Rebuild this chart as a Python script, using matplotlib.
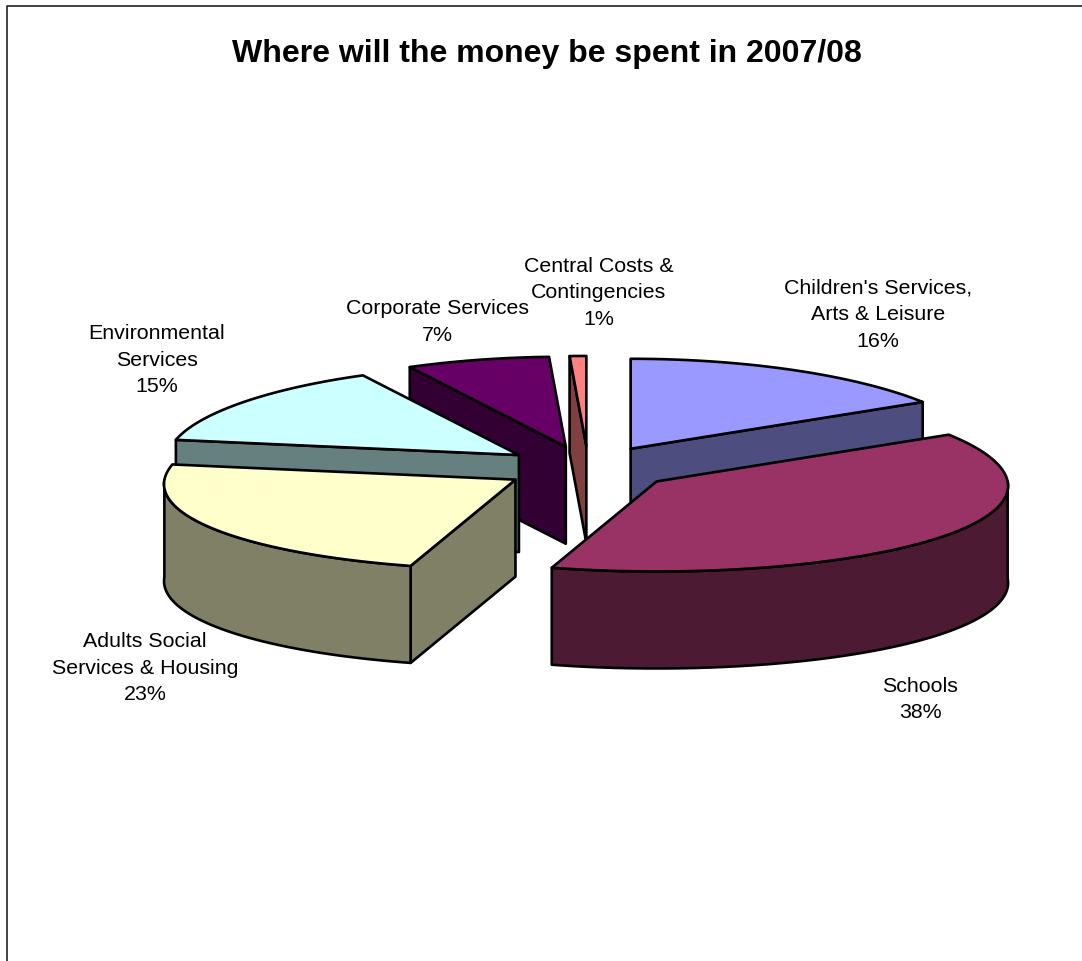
import numpy as np
import matplotlib
matplotlib.use("Agg")
import matplotlib.pyplot as plt
from matplotlib.patches import Polygon

plt.rcParams["font.family"] = ["Liberation Sans", "DejaVu Sans"]

# Budget shares in percent, clockwise from 12 o'clock
categories = ["Children's Services,\nArts & Leisure", "Schools", "Adults Social\nServices & Housing",
              "Environmental\nServices", "Corporate Services", "Central Costs &\nContingencies"]
shares = [16.3, 38.3, 23.1, 14.6, 6.9, 0.8]

top_colors = ["#9999FF", "#993366", "#FFFFCC", "#CCFFFF", "#660066", "#FF8080"]
side_colors = ["#4D4D80", "#4D1A33", "#808066", "#668080", "#330033", "#804040"]

# pie geometry, in figure pixels
CX, CY = 588.5, 468
RX, RY = 351, 90
DEPTH = 97
EXPLODE = 0.245
PERSPECTIVE = 0.05

# back to front, so nearer slices cover the ones behind
draw_order = [0, 5, 4, 3, 2, 1]
label_pos = [(878, 315), (920, 699.5), (145, 668), (157, 360), (437, 322), (599, 293)]


def project(center, theta):
    # the near side of the pie is drawn a little wider than the far side
    x = RX * np.sin(theta) * (1 - PERSPECTIVE * np.cos(theta))
    return np.column_stack([center[0] + x, center[1] - RY * np.cos(theta)])


def face_visible(center, p, m):
    # a cut face shows when the slice top lies above its edge on screen
    dx, dy = p[0] - center[0], p[1] - center[1]
    mx, my = m[0] - center[0], m[1] - center[1]
    return (dx * my - dy * mx) * np.sign(round(dx, 6)) < 0


def draw_slice(ax, start, end, top, side):
    mid = (start + end) / 2
    center = (CX + EXPLODE * RX * np.sin(mid), CY - EXPLODE * RY * np.cos(mid))
    theta = np.linspace(start, end, 150)
    arc = project(center, theta)
    mid_point = project(center, np.array([mid]))[0]
    style = dict(edgecolor="black", linewidth=1.9, joinstyle="round")

    for t in (start, end):
        p = project(center, np.array([t]))[0]
        if face_visible(center, p, mid_point):
            face = [center, p, (p[0], p[1] + DEPTH), (center[0], center[1] + DEPTH)]
            ax.add_patch(Polygon(face, facecolor=side, **style))

    # only the front half of the rim can be seen
    front = theta[(theta >= np.pi / 2) & (theta <= 3 * np.pi / 2)]
    if len(front) > 1:
        rim = project(center, front)
        lower = rim[::-1] + [0, DEPTH]
        ax.add_patch(Polygon(np.vstack([rim, lower]), facecolor=side, **style))

    ax.add_patch(Polygon(np.vstack([[center], arc]), facecolor=top, **style))


fig = plt.figure(figsize=(10.82, 9.61), dpi=100)
ax = fig.add_axes([0, 0, 1, 1])
ax.set_xlim(0, 1082)
ax.set_ylim(961, 0)
ax.axis("off")

edges = np.concatenate([[0], np.cumsum(shares)]) / sum(shares) * 2 * np.pi

for i in draw_order:
    draw_slice(ax, edges[i], edges[i + 1], top_colors[i], side_colors[i])

for name, value, (x, y) in zip(categories, shares, label_pos):
    ax.text(x, y, f"{name}\n{value:.0f}%", ha="center", va="center", fontsize=15.4,
            linespacing=1.5, color="black")

ax.text(547, 54, "Where will the money be spent in 2007/08", ha="center", va="center",
        fontsize=23.05, fontweight="bold", color="black")

# chart frame, only the top and left edges fall inside the canvas
ax.plot([6.5, 6.5, 1082], [961, 6, 6], color="#222222", linewidth=1.2)

fig.savefig("out.png", dpi=100)
